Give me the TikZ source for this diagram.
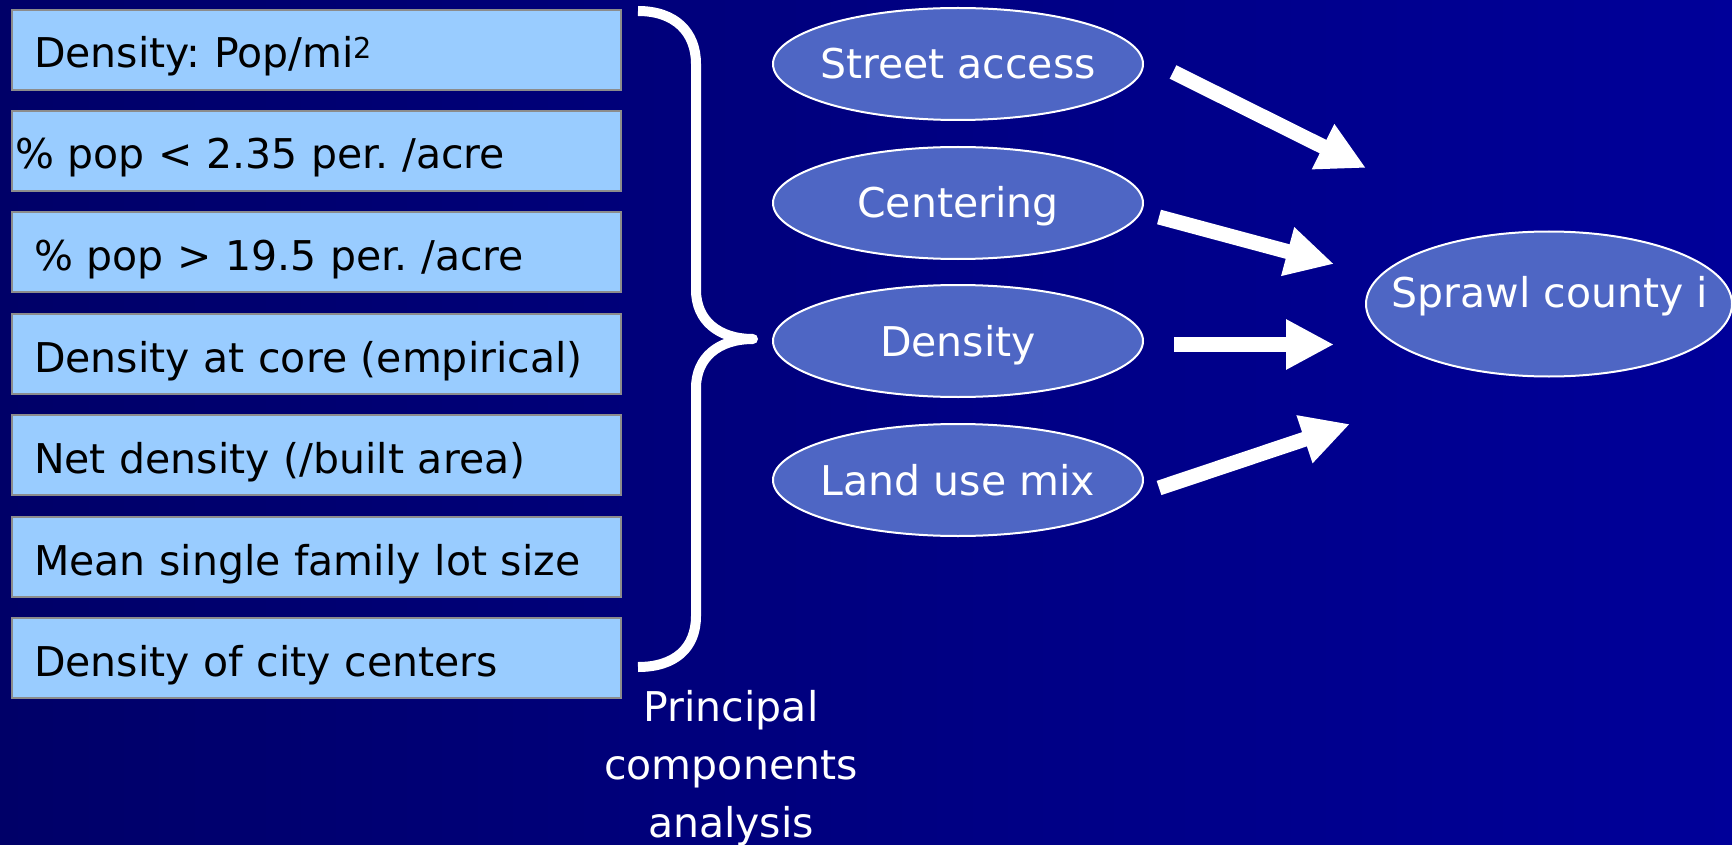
\documentclass[tikz,border=0pt]{standalone}
\usepackage{fontspec}
\setmainfont{DejaVu Sans}
\usetikzlibrary{arrows.meta,shapes.geometric}
\frenchspacing

\definecolor{bgleft}{RGB}{0,0,104}
\definecolor{bgright}{RGB}{0,0,153}
\definecolor{boxfill}{RGB}{153,204,255}
\definecolor{boxline}{RGB}{140,140,140}
\definecolor{ellfill}{RGB}{78,102,196}

\begin{document}
\begin{tikzpicture}[x=1pt,y=-1pt,
  bigfont/.style={font=\fontsize{41}{58}\selectfont},
  varbox/.style={rectangle, draw=boxline, line width=2pt, fill=boxfill,
    anchor=north west, minimum width=609pt, minimum height=80pt,
    inner xsep=22pt, inner ysep=0pt, text width=565pt, align=left,
    text height=38pt, text depth=2pt, text=black, bigfont},
  tightbox/.style={varbox, inner xsep=3pt, text width=603pt},
  factor/.style={ellipse, draw=white, line width=2pt, fill=ellfill,
    minimum width=370pt, minimum height=112pt, inner sep=0pt},
  outcome/.style={factor, minimum width=366pt, minimum height=145pt},
  ellabel/.style={text=white, inner sep=0pt, text height=30pt, text depth=0pt, bigfont},
  bigarrow/.style={draw=white, line width=15pt,
    -{Triangle[length=48pt,width=47pt]}},
  brace/.style={draw=white, line width=10pt, line join=round}
]
% background
\useasboundingbox (0,0) rectangle (1732,845);
\shade[left color=bgleft, right color=bgright] (0,0) rectangle (1732,845);

% measured variables
\node[varbox]   (v1) at (11,9)   {Density: Pop/mi\textsuperscript{2}};
\node[tightbox] (v2) at (11,110) {\% pop < 2.35 per. /acre};
\node[varbox]   (v3) at (11,211) {\% pop > 19.5 per. /acre};
\node[varbox]   (v4) at (11,313) {Density at core (empirical)};
\node[varbox]   (v5) at (11,414) {Net density (/built area)};
\node[varbox]   (v6) at (11,516) {Mean single family lot size};
\node[varbox]   (v7) at (11,617) {Density of city centers};

% grouping brace
\coordinate (btop) at (638,11);
\coordinate (btip) at (753,339);
\coordinate (bbot) at (638,667);
\draw[brace] (btop) .. controls (675,11) and (696,32) .. (696,64)
  -- (696,290) .. controls (696,320) and (718,339) .. (btip)
  .. controls (718,339) and (696,358) .. (696,388)
  -- (696,616) .. controls (696,648) and (675,667) .. (bbot);

\node[bigfont, text=white, align=center, inner sep=0pt, anchor=north]
  (pca) at (731,690) {Principal\\components\\analysis};

% components
\node[factor] (street) at (958,64)  {};
\node[factor] (center) at (958,203) {};
\node[factor] (dens)   at (958,341) {};
\node[factor] (land)   at (958,480) {};
\node[ellabel] (tstreet) at (street) {Street access};
\node[ellabel] (tcenter) at (center) {Centering};
\node[ellabel] (tdens)   at (dens)   {Density};
\node[ellabel] (tland)   at (land)   {Land use mix};

% index
\node[outcome] (sprawl) at (1549,304) {};
\node[ellabel] (tsprawl) at (1550,292) {Sprawl county i};

% block arrows
\coordinate (a1s) at (1173,72);   \coordinate (a1e) at (1366,168);
\coordinate (a2s) at (1159,217);  \coordinate (a2e) at (1334,264);
\coordinate (a3s) at (1174,344.5);\coordinate (a3e) at (1334,344.5);
\coordinate (a4s) at (1159,488);  \coordinate (a4e) at (1350,424);
\draw[bigarrow] (a1s) -- (a1e);
\draw[bigarrow] (a2s) -- (a2e);
\draw[bigarrow] (a3s) -- (a3e);
\draw[bigarrow] (a4s) -- (a4e);
\end{tikzpicture}
\end{document}
